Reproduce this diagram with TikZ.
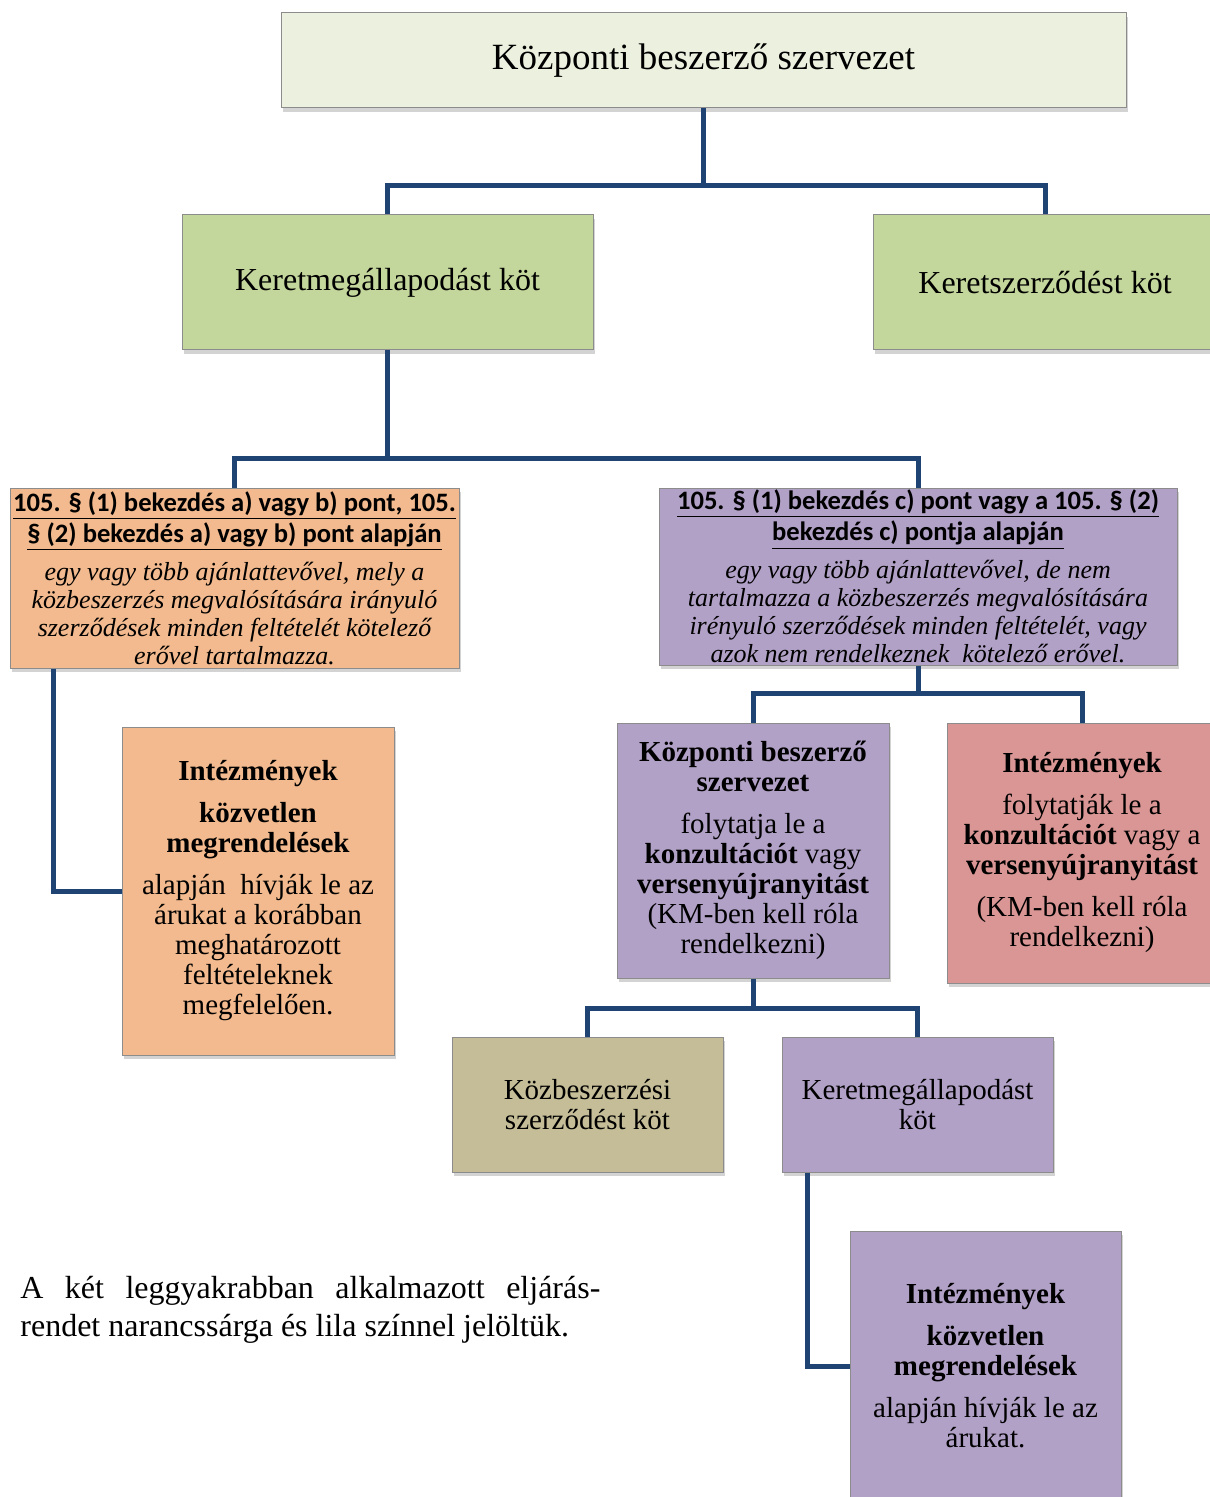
\documentclass[tikz,border=0pt]{standalone}
\usepackage{fontspec}
\setmainfont{Liberation Serif}
\newfontfamily\calibrifont{Carlito}
\usetikzlibrary{shadows, positioning}
\definecolor{TopGreen}{HTML}{EBF1DE}
\definecolor{LeafGreen}{HTML}{C3D69B}
\definecolor{OrangeBox}{HTML}{F2BA8E}
\definecolor{LilaBox}{HTML}{B2A1C7}
\definecolor{RedBox}{HTML}{D99694}
\definecolor{TanBox}{HTML}{C4BD97}
\definecolor{BoxLine}{HTML}{8C8C8C}
\definecolor{ConnBlue}{HTML}{1F4474}

\newcommand{\hdrline}[1]{{\calibrifont\upshape\bfseries\fontsize{13.3}{14.5}\selectfont\underline{#1}}}

\begin{document}
\begin{tikzpicture}[x=0.5pt, y=-0.5pt,
  box/.style={draw=BoxLine, line width=0.5pt, align=center, inner sep=0pt,
    drop shadow={shadow xshift=0.8pt, shadow yshift=-2pt, opacity=0.35}},
  conn/.style={draw=ConnBlue, line width=2.5pt},
  bigfont/.style={font=\fontsize{18.5}{22}\selectfont},
  midfont/.style={font=\fontsize{16}{19}\selectfont},
  bodyfont/.style={font=\fontsize{14.5}{15}\selectfont},
  itfont/.style={font=\fontsize{13}{14}\selectfont\itshape}]
  % page is 1209 x 1497 px
  \useasboundingbox (0,0) rectangle (1209,1497);

  % top row
  \node[box, bigfont, fill=TopGreen, minimum width=422.5pt, minimum height=47.5pt] (top) at (703.5,60.5) {Központi beszerző szervezet};

  \node[box, midfont, fill=LeafGreen, minimum width=205.5pt, minimum height=67.5pt] (kmeg) at (387.5,282.5) {Keretmegállapodást köt};
  \node[box, midfont, fill=LeafGreen, minimum width=172pt, minimum height=67.5pt] (kszerz) at (1045,282.5) {Keretszerződést köt};

  % the two legal bases
  \node[box, itfont, fill=OrangeBox, minimum width=224.5pt, minimum height=90pt] (hdrA) at (234.5,578)
    {\hdrline{105. § (1) bekezdés a) vagy b) pont, 105.}\\[0.5pt]
     \hdrline{§ (2) bekezdés a) vagy b) pont alapján}\\[5pt]
     egy vagy több ajánlattevővel, mely a\\
     közbeszerzés megvalósítására irányuló\\
     szerződések minden feltételét kötelező\\
     erővel tartalmazza.};
  \node[box, itfont, fill=LilaBox, minimum width=259pt, minimum height=88.5pt] (hdrB) at (918,576.5)
    {\hdrline{105. § (1) bekezdés c) pont vagy a 105. § (2)}\\[0.5pt]
     \hdrline{bekezdés c) pontja alapján}\\[5pt]
     egy vagy több ajánlattevővel, de nem\\
     tartalmazza a közbeszerzés megvalósítására\\
     irényuló szerződések minden feltételét, vagy\\
     azok nem rendelkeznek\ \ kötelező erővel.};

  % orange branch
  \node[box, bodyfont, fill=OrangeBox, minimum width=136pt, minimum height=164pt] (intA) at (258,891)
    {\textbf{Intézmények}\\[6pt]
     \textbf{közvetlen}\\
     \textbf{megrendelések}\\[6pt]
     alapján\ \ hívják le az\\
     árukat a korábban\\
     meghatározott\\
     feltételeknek\\
     megfelelően.};

  % lila branch
  \node[box, bodyfont, fill=LilaBox, minimum width=136pt, minimum height=127.5pt] (kbsz) at (753,850.5)
    {\textbf{Központi beszerző}\\
     \textbf{szervezet}\\[6pt]
     folytatja le a\\
     \textbf{konzultációt} vagy\\
     \textbf{versenyújranyitást}\\
     (KM-ben kell róla\\
     rendelkezni)};
  \node[box, bodyfont, fill=RedBox, minimum width=135pt, minimum height=130pt] (intB) at (1082,853)
    {\textbf{Intézmények}\\[6pt]
     folytatják le a\\
     \textbf{konzultációt} vagy a\\
     \textbf{versenyújranyitást}\\[6pt]
     (KM-ben kell róla\\
     rendelkezni)};

  \node[box, bodyfont, fill=TanBox, minimum width=135.5pt, minimum height=67.5pt] (kozb) at (587.5,1104.5)
    {Közbeszerzési\\ szerződést köt};
  \node[box, bodyfont, fill=LilaBox, minimum width=135.5pt, minimum height=67.5pt] (kmeg2) at (917.5,1104.5)
    {Keretmegállapodást\\ köt};

  \node[box, bodyfont, fill=LilaBox, minimum width=135.5pt, minimum height=135pt] (intC) at (985.5,1366)
    {\textbf{Intézmények}\\[6pt]
     \textbf{közvetlen}\\
     \textbf{megrendelések}\\[6pt]
     alapján hívják le az\\
     árukat.};

  % note
  \node[anchor=north west, inner sep=0pt, text width=290pt, align=justify,
    font=\fontsize{16}{19}\selectfont] (note) at (20,1276)
    {A két leggyakrabban alkalmazott eljárás-\linebreak rendet narancssárga és lila színnel jelöltük.};

  % connectors
  \draw[conn] (top.south) -- ++(0,77) -| (kmeg.north);
  \draw[conn] (top.south) -- ++(0,77) -| (kszerz.north);
  \draw[conn] (kmeg.south) -- ++(0,108) -| (hdrA.north);
  \draw[conn] (kmeg.south) -- ++(0,108) -| (hdrB.north);
  \draw[conn] ([xshift=22pt]hdrA.south west) |- (intA.west);
  \draw[conn] (hdrB.south) -- ++(0,28) -| (kbsz.north);
  \draw[conn] (hdrB.south) -- ++(0,28) -| (intB.north);
  \draw[conn] (kbsz.south) -- ++(0,30) -| (kozb.north);
  \draw[conn] (kbsz.south) -- ++(0,30) -| (kmeg2.north);
  \draw[conn] ([xshift=13pt]kmeg2.south west) |- (intC.west);
\end{tikzpicture}
\end{document}
